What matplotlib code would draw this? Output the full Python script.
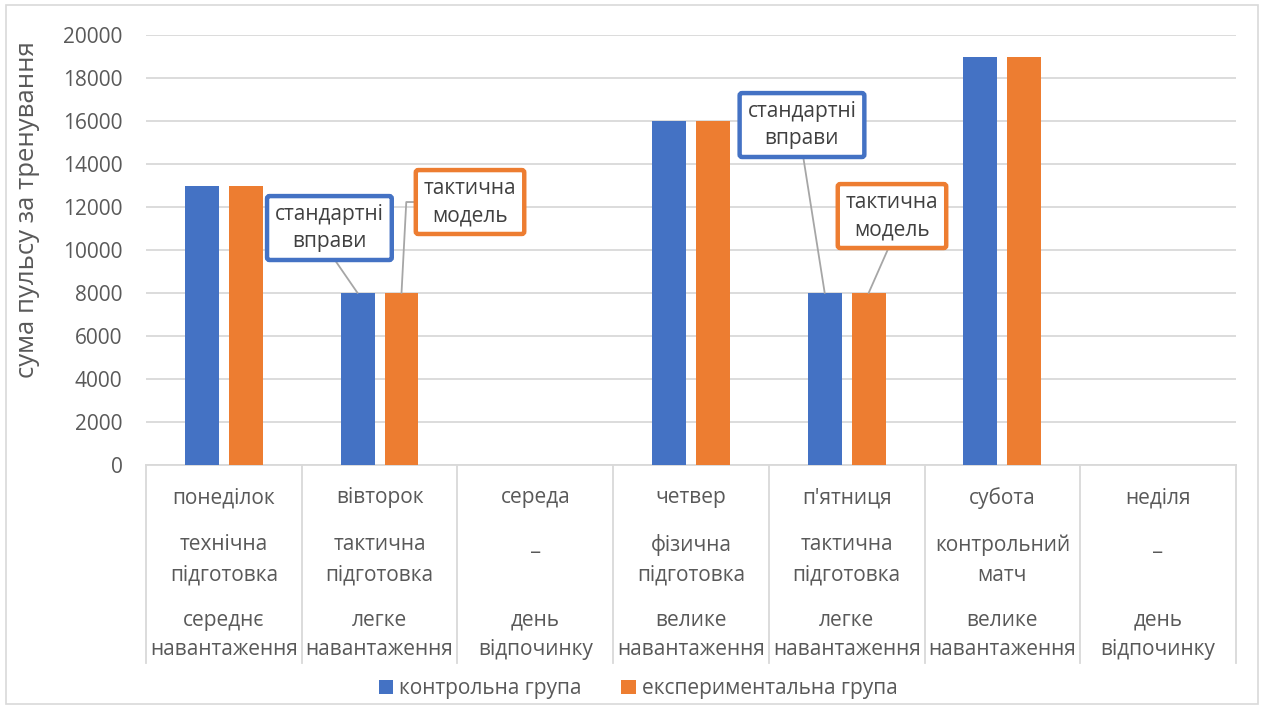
import matplotlib.pyplot as plt
from matplotlib.patches import Rectangle
from matplotlib.transforms import blended_transform_factory
import numpy as np

plt.rcParams['font.family'] = ['Open Sans', 'DejaVu Sans']

# дні тижня, зміст тренування і навантаження
days = ['понеділок', 'вівторок', 'середа', 'четвер', "п'ятниця", 'субота', 'неділя']
activities = ['технічна\nпідготовка', 'тактична\nпідготовка', '_', 'фізична\nпідготовка',
              'тактична\nпідготовка', 'контрольний\nматч', '_']
loads = ['середнє\nнавантаження', 'легке\nнавантаження', 'день\nвідпочинку', 'велике\nнавантаження',
         'легке\nнавантаження', 'велике\nнавантаження', 'день\nвідпочинку']

control = [13000, 8000, 0, 16000, 8000, 19000, 0]
experimental = [13000, 8000, 0, 16000, 8000, 19000, 0]

blue = '#4472C4'
orange = '#ED7D31'
text_gray = '#595959'
grid_gray = '#D9D9D9'

fig = plt.figure(figsize=(12.64, 7.08), dpi=100)
ax = fig.add_axes([0.1155, 0.3432, 0.8623, 0.6073])

x = np.arange(len(days))
off = 0.141
w = 0.218
ax.bar(x - off, control, width=w, color=blue, label='контрольна група', zorder=3)
ax.bar(x + off, experimental, width=w, color=orange, label='експериментальна група', zorder=3)

ax.set_xlim(-0.5, len(days) - 0.5)
ax.set_ylim(0, 20000)
ax.set_yticks(np.arange(0, 20001, 2000))
ax.tick_params(axis='y', length=0, pad=17, labelsize=15, labelcolor=text_gray)
ax.set_xticks([])
ax.grid(axis='y', color=grid_gray, lw=1.3, zorder=0)
for s in ['top', 'right', 'left']:
    ax.spines[s].set_visible(False)
ax.spines['bottom'].set_color(grid_gray)
ax.spines['bottom'].set_linewidth(1.3)
ax.set_ylabel('сума пульсу за тренування', fontsize=18.5, color=text_gray)
ax.yaxis.set_label_coords(-0.097, 0.593)

# багаторівнева вісь категорій
tr = blended_transform_factory(ax.transData, ax.transAxes)
for b in np.arange(-0.5, len(days), 1.0):
    ax.plot([b, b], [0, -0.4605], transform=tr, color=grid_gray, lw=1.3, clip_on=False)

line_y = [[-0.0767], [-0.186, -0.2558], [-0.3605, -0.4302]]
for i in range(len(days)):
    groups = [[days[i]], activities[i].split('\n'), loads[i].split('\n')]
    for g, lines in enumerate(groups):
        for k, t in enumerate(lines):
            ax.text(i, line_y[g][k], t, transform=tr, ha='center', va='center',
                    fontsize=15, color=text_gray)

# виноски
def callout(text, bar_x, pos, color, relpos=(0.5, 0), conn='arc3'):
    ax.annotate(text, xy=(bar_x, 8000), xytext=pos, textcoords='data',
                ha='center', va='center', fontsize=15, color='#404040',
                linespacing=1.38, zorder=5,
                bbox=dict(boxstyle='round,pad=0.38,rounding_size=0.12', fc='white', ec=color, lw=3.2),
                arrowprops=dict(arrowstyle='-', color='#A6A6A6', lw=1.3, shrinkA=0, shrinkB=0,
                                relpos=relpos, connectionstyle=conn))

callout('стандартні\nвправи', 1 - off, (0.678, 11023), blue)
callout('тактична\nмодель', 1 + off, (1.581, 12233), orange, relpos=(0, 0.5),
        conn='angle,angleA=0,angleB=87,rad=0')
callout('стандартні\nвправи', 4 - off, (3.713, 15814), blue)
callout('тактична\nмодель', 4 + off, (4.291, 11581), orange)

fig.legend(loc='lower center', bbox_to_anchor=(0.505, -0.014), ncol=2, frameon=False,
           fontsize=15, labelcolor=text_gray, handlelength=0.7, handleheight=0.7,
           handletextpad=0.3, columnspacing=1.9)

fig.patches.append(Rectangle((0.005, 0.005), 0.99, 0.988, transform=fig.transFigure,
                             fill=False, ec=grid_gray, lw=1.2))

fig.savefig('out.png', dpi=100)
